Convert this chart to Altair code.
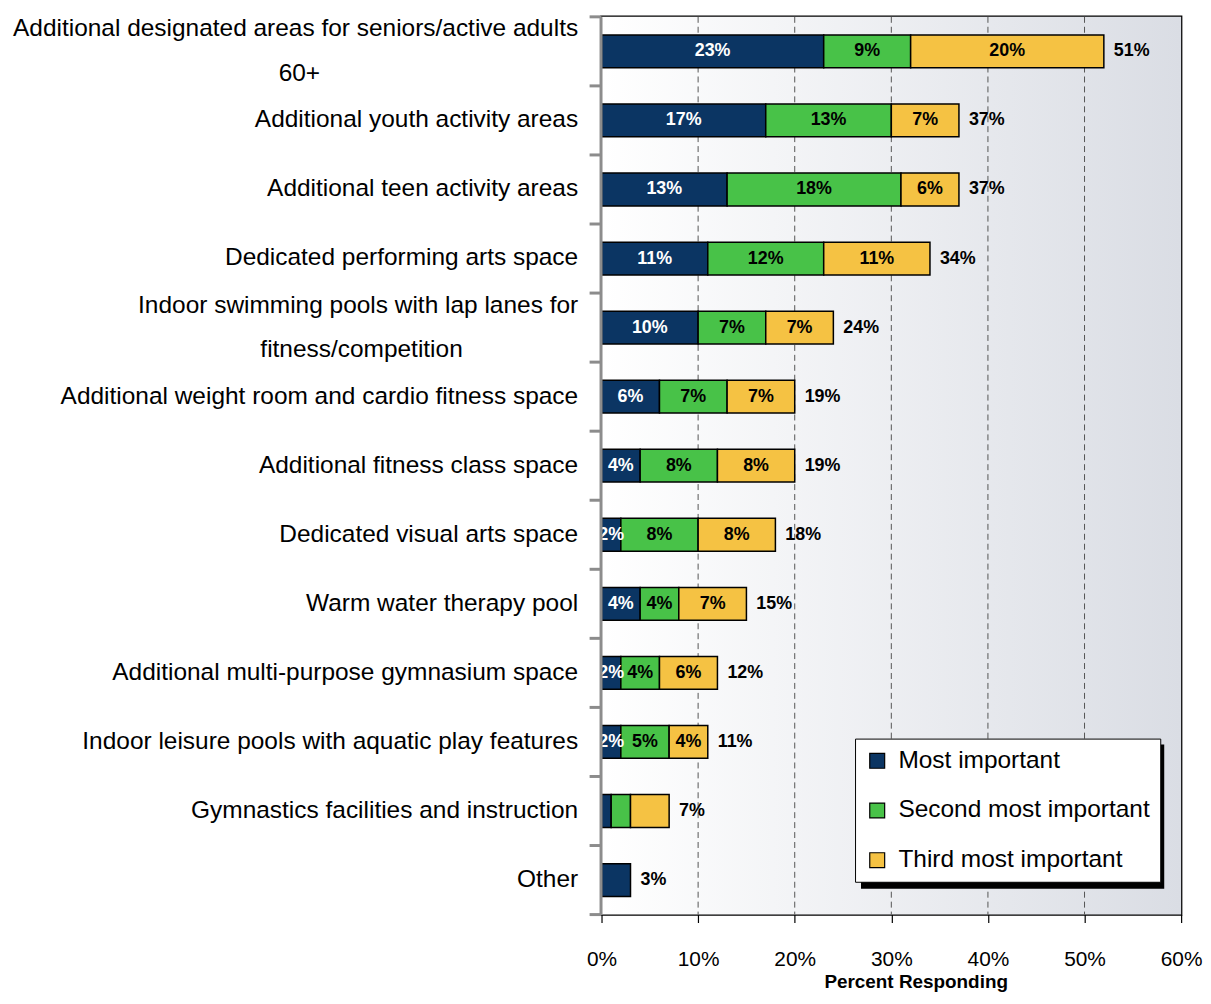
import altair as alt
import pandas as pd

# ---------------- data ----------------
categories = [
    "Additional designated areas for seniors/active adults\n60+",
    "Additional youth activity areas",
    "Additional teen activity areas",
    "Dedicated performing arts space",
    "Indoor swimming pools with lap lanes for\nfitness/competition",
    "Additional weight room and cardio fitness space",
    "Additional fitness class space",
    "Dedicated visual arts space",
    "Warm water therapy pool",
    "Additional multi-purpose gymnasium space",
    "Indoor leisure pools with aquatic play features",
    "Gymnastics facilities and instruction",
    "Other",
]
series_names = ["Most important", "Second most important", "Third most important"]
most = [23, 17, 13, 11, 10, 6, 4, 2, 4, 2, 2, 1, 3]
second = [9, 13, 18, 12, 7, 7, 8, 8, 4, 4, 5, 2, 0]
third = [20, 7, 6, 11, 7, 7, 8, 8, 7, 6, 4, 4, 0]
totals = [51, 37, 37, 34, 24, 19, 19, 18, 15, 12, 11, 7, 3]
show_segment_labels = [True] * 11 + [False, False]
x_ticks = [0, 10, 20, 30, 40, 50, 60]
grid_values = [10, 20, 30, 40, 50]

# ---------------- style ----------------
W, H = 583, 903
FONT = "Liberation Sans, Arial, sans-serif"
COLORS = ["#0b3563", "#48c248", "#f5c243"]
# non-breaking-space padding so that the second line looks centred under the first
SECOND_LINE_PAD = {0: 38, 4: 17}
LX, LY, LW, LH = 255, 726, 305, 145  # legend box (plot coords)

display = []
for i, c in enumerate(categories):
    if "\n" in c:
        a, b = c.split("\n")
        c = a + "\n" + b + "\u00a0" * SECOND_LINE_PAD.get(i, 0) + "\u200b"
    display.append(c)

rows = []
for i, cat in enumerate(display):
    start = 0
    for k, vals in enumerate([most, second, third]):
        v = vals[i]
        if v > 0:
            rows.append(dict(cat=cat, series=series_names[k], order=k, start=start,
                             end=start + v, mid=start + v / 2,
                             label=f"{v}%" if show_segment_labels[i] else ""))
        start += v
df = pd.DataFrame(rows)
df_lab = df[df["label"] != ""]
df_tot = pd.DataFrame({
    "cat": display,
    "end": [most[i] + second[i] + third[i] for i in range(len(display))],
    "label": [f"{t}%" for t in totals],
})
df_grid = pd.DataFrame({"v": grid_values})
df_sep = pd.DataFrame({"cat": display})
one = pd.DataFrame({"a": [0]})

xscale = alt.Scale(domain=[0, 60], nice=False, zero=True)
yscale = alt.Scale(paddingInner=0, paddingOuter=0)

xaxis = alt.Axis(values=x_ticks, labelExpr="datum.value + '%'", labelFont=FONT,
                 labelFontSize=21, labelColor="black", labelFlush=False,
                 tickSize=8, tickColor="black", tickWidth=1.2, domain=False,
                 grid=False, labelPadding=26, title="Percent Responding",
                 titleFont=FONT, titleFontSize=19, titleFontWeight="bold",
                 titleColor="black", titleX=316, titleY=73,
                 titleBaseline="alphabetic", titleAlign="center", zindex=1)
yaxis = alt.Axis(title=None, labelFont=FONT, labelFontSize=24.6, labelColor="black",
                 labelPadding=23, ticks=False, domainColor="#8c8c8c", domainWidth=3,
                 labelLimit=700, labelLineHeight=45,
                 labelExpr="split(datum.label, '\\n')",
                 labelBaseline={"condition": {"test": "indexof(datum.value, '\\n') >= 0",
                                              "value": "line-bottom"},
                                "value": "middle"},
                 offset=1, zindex=1)

gradient = alt.LinearGradient(
    gradient="linear",
    stops=[alt.GradientStop(color="#ffffff", offset=0),
           alt.GradientStop(color="#dadde4", offset=1)],
    x1=0, x2=1, y1=0, y2=0)

bg = alt.Chart(one).mark_rect(color=gradient).encode(
    x=alt.value(0), x2=alt.value(W), y=alt.value(0), y2=alt.value(H))

grid = alt.Chart(df_grid).mark_rule(color="#555555", strokeWidth=1, strokeDash=[6, 4]).encode(
    x=alt.X("v:Q", scale=xscale, axis=xaxis), y=alt.value(0), y2=alt.value(H))

sep = alt.Chart(df_sep).mark_rule(color="#8c8c8c", strokeWidth=3).encode(
    y=alt.Y("cat:N", sort=display, scale=yscale, axis=yaxis, bandPosition=0),
    x=alt.value(-12), x2=alt.value(0))
sep_bottom = alt.Chart(one).mark_rule(color="#8c8c8c", strokeWidth=3).encode(
    y=alt.value(H), x=alt.value(-12), x2=alt.value(0))

bars = alt.Chart(df).mark_bar(size=33, stroke="black", strokeWidth=1.5).encode(
    y=alt.Y("cat:N", sort=display, scale=yscale, axis=yaxis),
    x=alt.X("start:Q", scale=xscale, axis=xaxis),
    x2="end:Q",
    color=alt.Color("series:N", scale=alt.Scale(domain=series_names, range=COLORS),
                    legend=alt.Legend(orient="none", legendX=LX, legendY=LY, title=None,
                                      symbolType="square", symbolSize=225,
                                      symbolStrokeColor="black", symbolStrokeWidth=1.2,
                                      labelFont=FONT, labelFontSize=24.6, labelColor="black",
                                      labelLimit=400, labelOffset=9, rowPadding=25,
                                      padding=10, fillColor="white", strokeColor="black",
                                      direction="vertical")),
)

segtext = alt.Chart(df_lab).mark_text(font=FONT, fontSize=18, fontWeight="bold").encode(
    y=alt.Y("cat:N", sort=display, scale=yscale, axis=yaxis),
    x=alt.X("mid:Q", scale=xscale, axis=xaxis),
    text="label:N",
    color=alt.condition(alt.datum.order == 0, alt.value("white"), alt.value("black")),
)

tottext = alt.Chart(df_tot).mark_text(font=FONT, fontSize=18, fontWeight="bold",
                                      align="left", dx=10, color="black").encode(
    y=alt.Y("cat:N", sort=display, scale=yscale, axis=yaxis),
    x=alt.X("end:Q", scale=xscale, axis=xaxis),
    text="label:N",
)

shadow = alt.Chart(one).mark_rect(color="black").encode(
    x=alt.value(LX + 6), x2=alt.value(LX + LW + 6),
    y=alt.value(LY + 6), y2=alt.value(LY + LH + 6))

chart = alt.layer(bg, grid, sep, sep_bottom, bars, segtext, tottext, shadow).properties(
    width=W, height=H,
    background="white",
    autosize=alt.AutoSizeParams(type="none"),
    padding={"left": 597, "top": 6, "right": 22, "bottom": 78},
).configure_view(stroke="black", strokeWidth=2.5)

chart.save("out.html", embed_options={"renderer": "svg", "actions": False})
